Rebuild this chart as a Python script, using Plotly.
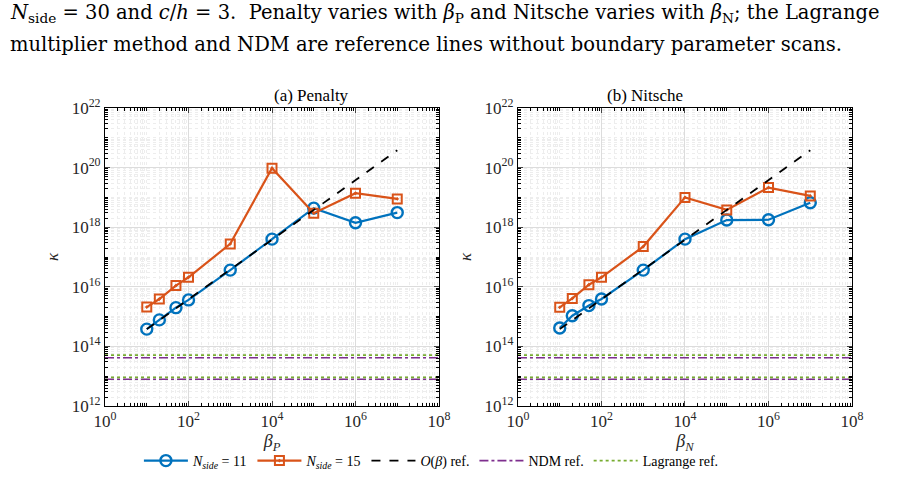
import plotly.graph_objects as go

beta = [10, 20, 50, 100, 1e3, 1e4, 1e5, 1e6, 1e7]
pen_n11 = [10**14.58, 10**14.89, 10**15.30, 10**15.56, 10**16.56, 10**17.60, 10**18.64, 10**18.15, 10**18.49]
pen_n15 = [10**15.32, 10**15.59, 10**16.04, 10**16.32, 10**17.44, 10**19.98, 10**18.47, 10**19.14, 10**18.95]
nit_n11 = [10**14.62, 10**15.03, 10**15.37, 10**15.59, 10**16.56, 10**17.60, 10**18.24, 10**18.25, 10**18.82]
nit_n15 = [10**15.31, 10**15.61, 10**16.07, 10**16.32, 10**17.35, 10**19.00, 10**18.58, 10**19.33, 10**19.05]
ref_coef = 3.8e13
ndm_ref = [4.17e13, 7.9e12]
lag_ref = [5.1e13, 9.1e12]
xlim = [1, 1e8]
ytick_vals = [1e12, 1e14, 1e16, 1e18, 1e20, 1e22]
ytick_text = ["10<sup>12</sup>", "10<sup>14</sup>", "10<sup>16</sup>", "10<sup>18</sup>", "10<sup>20</sup>", "10<sup>22</sup>"]
xtick_vals = [1, 1e2, 1e4, 1e6, 1e8]
xtick_text = ["10<sup>0</sup>", "10<sup>2</sup>", "10<sup>4</sup>", "10<sup>6</sup>", "10<sup>8</sup>"]

BLUE = "#0072BD"
ORANGE = "#D95319"
PURPLE = "#7E2F8E"
GREEN = "#77AC30"
FONT = "Liberation Serif"
CAPFONT = "DejaVu Serif"

fig = go.Figure()

panels = [("x", "y", pen_n11, pen_n15, True), ("x2", "y2", nit_n11, nit_n15, False)]
for xa, ya, n11, n15, show in panels:
    fig.add_trace(go.Scatter(x=beta, y=n11, xaxis=xa, yaxis=ya, mode="lines+markers",
                             line=dict(color=BLUE, width=2.2),
                             marker=dict(symbol="circle-open", size=11, color=BLUE, line=dict(width=2.4)),
                             name="<i>N<sub>side</sub></i> = 11", showlegend=show, legendrank=1))
    fig.add_trace(go.Scatter(x=beta, y=n15, xaxis=xa, yaxis=ya, mode="lines+markers",
                             line=dict(color=ORANGE, width=2.2),
                             marker=dict(symbol="square-open-dot", size=9, color=ORANGE, line=dict(width=2)),
                             name="<i>N<sub>side</sub></i> = 15", showlegend=show, legendrank=2))
    fig.add_trace(go.Scatter(x=beta, y=[ref_coef * b for b in beta], xaxis=xa, yaxis=ya, mode="lines",
                             line=dict(color="black", width=1.8, dash="dash"),
                             name="<i>O</i>(<i>β</i>) ref.", showlegend=show, legendrank=3))
    for i, v in enumerate(ndm_ref):
        fig.add_trace(go.Scatter(x=xlim, y=[v, v], xaxis=xa, yaxis=ya, mode="lines",
                                 line=dict(color=PURPLE, width=1.6, dash="dashdot"),
                                 name="NDM ref.", showlegend=show and i == 0, legendrank=4))
    for i, v in enumerate(lag_ref):
        fig.add_trace(go.Scatter(x=xlim, y=[v, v], xaxis=xa, yaxis=ya, mode="lines",
                                 line=dict(color=GREEN, width=1.6, dash="dot"),
                                 name="Lagrange ref.", showlegend=show and i == 0, legendrank=5))

def xaxis(domain, anchor, title):
    return dict(domain=domain, anchor=anchor, type="log", range=[0, 8], automargin=False,
                tickvals=xtick_vals, ticktext=xtick_text, ticks="inside", ticklen=5,
                showline=True, linecolor="black", linewidth=1.2, mirror="allticks",
                showgrid=True, gridcolor="#dcdcdc", gridwidth=1,
                minor=dict(ticks="inside", ticklen=3, dtick="D1", showgrid=True,
                           gridcolor="#ededed", griddash="dot", gridwidth=1, tickcolor="black"),
                tickfont=dict(family=FONT, size=17, color="#262626"),
                title=dict(text=title, font=dict(family=FONT, size=18, color="#262626"), standoff=3),
                zeroline=False)

def yaxis(anchor):
    return dict(domain=[0.1798, 0.7818], anchor=anchor, type="log", range=[12, 22], automargin=False,
                tickvals=ytick_vals, ticktext=ytick_text, ticks="inside", ticklen=5,
                showline=True, linecolor="black", linewidth=1.2, mirror="allticks",
                showgrid=True, gridcolor="#dcdcdc", gridwidth=1,
                minor=dict(ticks="inside", ticklen=3, dtick="D1", showgrid=True,
                           gridcolor="#ededed", griddash="dot", gridwidth=1, tickcolor="black"),
                tickfont=dict(family=FONT, size=17, color="#262626"),
                title=dict(text="<i>κ</i>", font=dict(family=FONT, size=17, color="#262626"), standoff=8),
                zeroline=False)

fig.update_layout(
    width=914, height=495,
    margin=dict(l=0, r=0, t=0, b=0),
    paper_bgcolor="white", plot_bgcolor="white",
    font=dict(family=FONT, color="#262626"),
    xaxis=xaxis([0.1149, 0.4803], "y", "<i>β<sub>P</sub></i>"),
    yaxis=yaxis("x"),
    xaxis2=xaxis([0.5667, 0.9322], "y2", "<i>β<sub>N</sub></i>"),
    yaxis2=yaxis("x2"),
    legend=dict(orientation="h", x=0.472, xanchor="center", y=1 - 461 / 495, yanchor="middle",
                font=dict(family=FONT, size=14, color="black"), bgcolor="rgba(0,0,0,0)",
                tracegroupgap=0, itemwidth=44),
    annotations=[
        dict(text="(a) Penalty", xref="paper", yref="paper", x=0.2976, y=1 - 95 / 495,
             yanchor="middle", showarrow=False, font=dict(family=FONT, size=17, color="black")),
        dict(text="(b) Nitsche", xref="paper", yref="paper", x=0.7494, y=1 - 95 / 495,
             yanchor="middle", showarrow=False, font=dict(family=FONT, size=17, color="black")),
        dict(text="<i>N</i><sub>side</sub> = 30 and <i>c</i>/<i>h</i> = 3.  Penalty varies with <i>β</i><sub>P</sub> and Nitsche varies with <i>β</i><sub>N</sub>; the Lagrange",
             xref="paper", yref="paper", x=0.009, y=1 - 14 / 495, xanchor="left", yanchor="middle",
             showarrow=False, font=dict(family=CAPFONT, size=19.5, color="black")),
        dict(text="multiplier method and NDM are reference lines without boundary parameter scans.",
             xref="paper", yref="paper", x=0.009, y=1 - 44 / 495, xanchor="left", yanchor="middle",
             showarrow=False, font=dict(family=CAPFONT, size=19.5, color="black")),
    ],
)

fig.write_html("out.html")
